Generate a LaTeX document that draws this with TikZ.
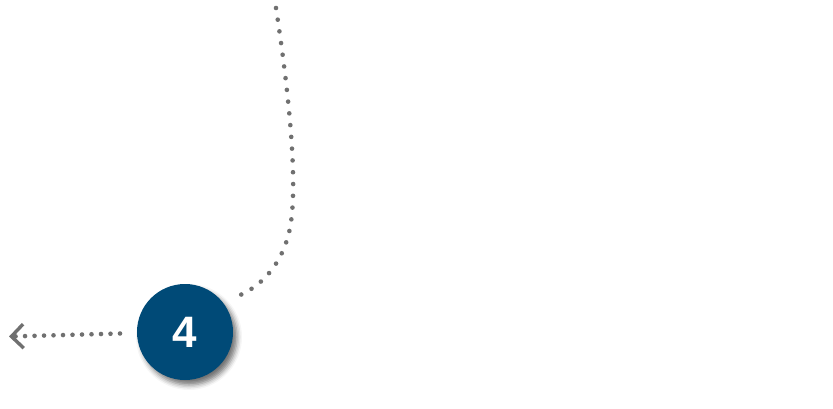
\documentclass[tikz,border=0pt]{standalone}
\usepackage{fontspec}
\setmainfont{Liberation Sans}
\usetikzlibrary{arrows.meta,shadows.blur}
\definecolor{stepblue}{RGB}{0,74,119}
\definecolor{dotgray}{RGB}{112,112,112}
\tikzset{
  stepcircle/.style={circle, fill=stepblue, minimum size=96pt, inner sep=0pt,
    text=white, font=\fontsize{44}{48}\selectfont\bfseries,
    blur shadow={shadow xshift=4pt, shadow yshift=-5pt, shadow blur radius=5pt, shadow opacity=55}},
  dotline/.style={draw=dotgray, line width=4.6pt, line cap=round},
  barb/.style={-{Straight Barb[length=12pt, width=24pt, line width=3.4pt]}}
}
\begin{document}
\begin{tikzpicture}[x=1pt,y=-1pt]
\useasboundingbox (0,0) rectangle (833,408);
\node[stepcircle] (c4) at (185,332) {4};
\coordinate (top) at (276,8);
\coordinate (bend) at (291,222);
\coordinate (curveend) at (238,296);
\coordinate (linestart) at (120,333.5);
\coordinate (arrowend) at (9,336.5);
\draw[dotline, dash pattern=on 0pt off 11.8pt]
  (top) .. controls (290,100) and (297,180) .. (bend)
        .. controls (286,258) and (265,285) .. (curveend);
\draw[dotline, dash pattern=on 0pt off 9.5pt, barb] (linestart) -- (arrowend);
\end{tikzpicture}
\end{document}
